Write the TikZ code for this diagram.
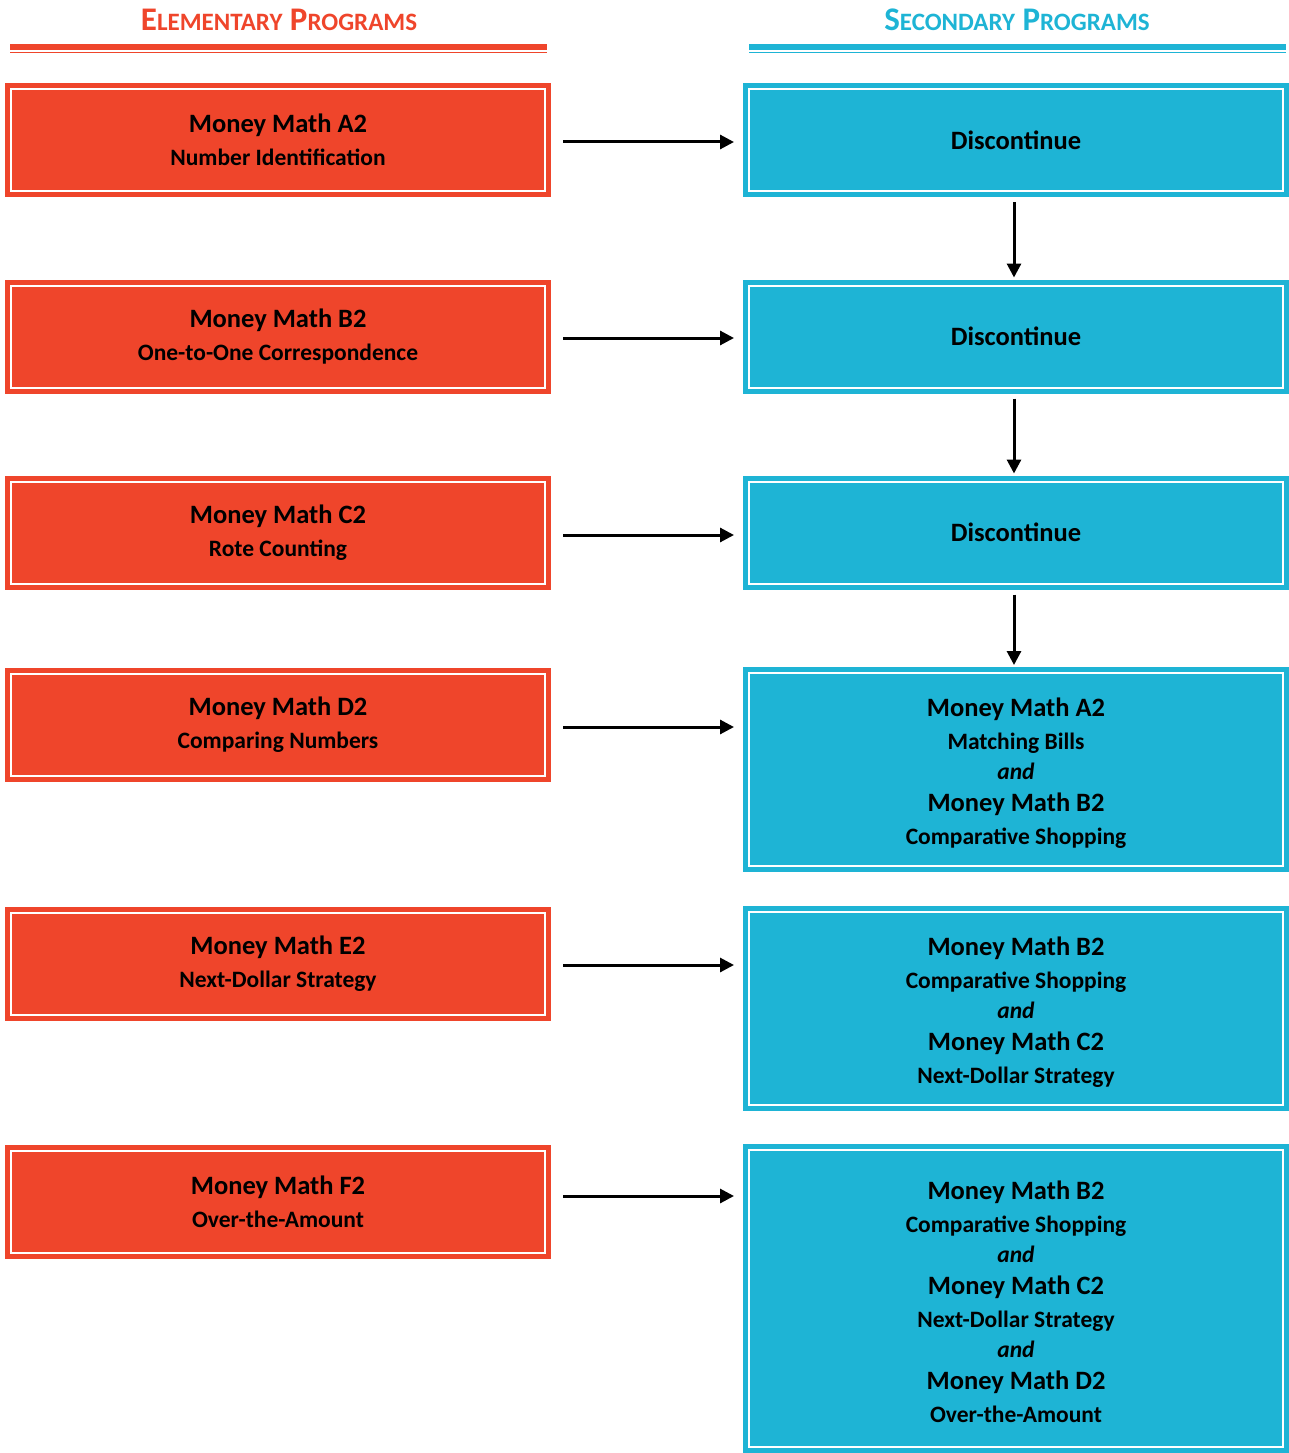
\documentclass[tikz,border=0pt]{standalone}
\usepackage{fontspec}
\setmainfont{Carlito}
\usetikzlibrary{arrows.meta}
\definecolor{redbox}{RGB}{239,69,43}
\definecolor{bluebox}{RGB}{30,180,213}
\newcommand{\ttl}[1]{{\fontsize{26.5}{33}\selectfont #1}}
\newcommand{\andw}{\textit{and}}
\newcommand{\hdr}[2]{{\fontsize{33}{34}\selectfont #1}{\fontsize{25}{34}\selectfont #2}}
\newcommand{\hsp}{{\fontsize{33}{34}\selectfont\ }}
\newcommand{\pad}{\rule{0pt}{0pt}\\[-7pt]}
\tikzset{
  prog/.style={minimum width=534pt, inner sep=0pt, line width=2pt, draw=white,
    align=center, font=\bfseries\fontsize{23.5}{33}\selectfont, text=black},
  elem/.style={prog, fill=redbox, preaction={draw=redbox, line width=12pt}, minimum height=102pt},
  seco/.style={prog, fill=bluebox, preaction={draw=bluebox, line width=12pt}},
  arr/.style={line width=3pt, -{Triangle[length=14pt,width=14pt]}},
  head/.style={font=\bfseries, anchor=base},
}
\begin{document}
\begin{tikzpicture}[x=1pt,y=-1pt]
\useasboundingbox (0,0) rectangle (1289,1453);
% headers
\node[head, text=redbox] (hl) at (279,31) {\hdr{E}{LEMENTARY}\hsp\hdr{P}{ROGRAMS}};
\node[head, text=bluebox] (hr) at (1017,31) {\hdr{S}{ECONDARY}\hsp\hdr{P}{ROGRAMS}};
\fill[redbox] (10,44) rectangle (547,50);
\fill[redbox] (10,51.7) rectangle (547,53.5);
\fill[bluebox] (749,44) rectangle (1286,50);
\fill[bluebox] (749,51.7) rectangle (1286,53.5);
% elementary boxes
\node[elem] (r1) at (278,140) {\ttl{Money Math A2}\\ Number Identification};
\node[elem] (r2) at (278,336.5) {\ttl{Money Math B2}\\ One-to-One Correspondence};
\node[elem] (r3) at (278,532.5) {\ttl{Money Math C2}\\ Rote Counting};
\node[elem] (r4) at (278,724.5) {\ttl{Money Math D2}\\ Comparing Numbers};
\node[elem] (r5) at (278,963.5) {\ttl{Money Math E2}\\ Next-Dollar Strategy};
\node[elem] (r6) at (278,1202) {\ttl{Money Math F2}\\ Over-the-Amount};
% secondary boxes
\node[seco, minimum height=102pt] (b1) at (1016,140) {\ttl{Discontinue}};
\node[seco, minimum height=102pt] (b2) at (1016,336.5) {\ttl{Discontinue}};
\node[seco, minimum height=102pt] (b3) at (1016,532.5) {\ttl{Discontinue}};
\node[seco, minimum height=193pt] (b4) at (1016,769.5) {\pad\ttl{Money Math A2}\\ Matching Bills\\[-3pt] \andw\\[-1pt] \ttl{Money Math B2}\\ Comparative Shopping};
\node[seco, minimum height=193pt] (b5) at (1016,1008.5) {\pad\ttl{Money Math B2}\\ Comparative Shopping\\[-3pt] \andw\\[-1pt] \ttl{Money Math C2}\\ Next-Dollar Strategy};
\node[seco, minimum height=297pt] (b6) at (1016,1298.5) {\pad\ttl{Money Math B2}\\ Comparative Shopping\\[-3pt] \andw\\[-1pt] \ttl{Money Math C2}\\ Next-Dollar Strategy\\[-3pt] \andw\\[-1pt] \ttl{Money Math D2}\\ Over-the-Amount};
% horizontal arrows
\foreach \i/\dy in {1/-2,2/-1.5,3/-2.5,4/-2.5,5/-1.5,6/6}{
  \draw[arr, shorten <=17pt, shorten >=14pt] ([yshift=\dy pt]r\i.east) -- ([yshift=\dy pt]r\i.east -| b\i.west);
}
% vertical arrows
\foreach \i/\j in {1/2,2/3,3/4}{
  \draw[arr, shorten <=10pt, shorten >=7pt] ([xshift=-2pt]b\i.south) -- ([xshift=-2pt]b\j.north);
}
\end{tikzpicture}
\end{document}
